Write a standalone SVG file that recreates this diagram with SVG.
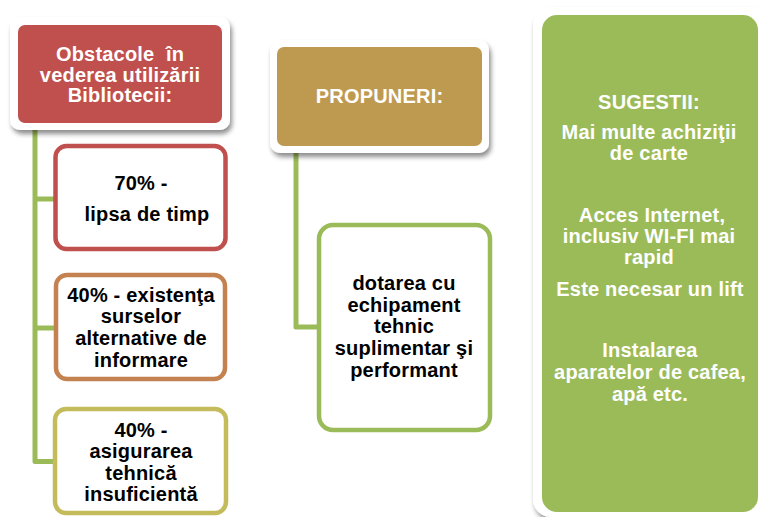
<svg xmlns="http://www.w3.org/2000/svg" width="758" height="517" viewBox="0 0 758 517">
  <defs>
    <filter id="sh" x="-10%" y="-10%" width="125%" height="125%">
      <feGaussianBlur in="SourceAlpha" stdDeviation="2.5"/>
      <feOffset dx="2" dy="4" result="b"/>
      <feComponentTransfer><feFuncA type="linear" slope="0.45"/></feComponentTransfer>
      <feMerge><feMergeNode/><feMergeNode in="SourceGraphic"/></feMerge>
    </filter>
  </defs>
  <style>
    text { font-family: "Liberation Sans", Arial, sans-serif; font-weight: bold; font-size: 20px; text-anchor: middle; letter-spacing: 0.2px; }
    .w { fill: #ffffff; }
    .k { fill: #000000; }
    .frame { fill: #ffffff; filter: url(#sh); }
    .box { fill: #ffffff; stroke-width: 4.5; }
    .conn { fill: none; stroke: #9BBB59; stroke-width: 5; stroke-linejoin: round; }
  </style>
  <rect width="758" height="517" fill="#ffffff"/>

  <g id="connectors">
    <path class="conn" d="M35 127 V461.5 H56"/>
    <path class="conn" d="M35 199 H56"/>
    <path class="conn" d="M35 328 H56"/>
    <path class="conn" d="M296 150 V327 H320"/>
  </g>

  <g id="obstacole">
    <rect class="frame" x="10" y="17" width="220" height="113" rx="10"/>
    <rect x="18" y="25" width="204" height="98" rx="7" fill="#C0504D"/>
    <text class="w" x="120" y="60.5" xml:space="preserve">Obstacole  în</text>
    <text class="w" x="120" y="81.5">vederea utilizării</text>
    <text class="w" x="120" y="102">Bibliotecii:</text>
  </g>

  <g id="lipsa">
    <rect class="box" x="55.5" y="146" width="170" height="103" rx="11" stroke="#C0504D"/>
    <text class="k" x="141" y="190">70% -</text>
    <text class="k" x="147" y="220.5">lipsa de timp</text>
  </g>

  <g id="surse">
    <rect class="box" x="56" y="275" width="169" height="104" rx="11" stroke="#C48250"/>
    <text class="k" x="141" y="301.5">40% - existenţa</text>
    <text class="k" x="141" y="323">surselor</text>
    <text class="k" x="141" y="345">alternative de</text>
    <text class="k" x="141" y="366.5">informare</text>
  </g>

  <g id="asigurarea">
    <rect class="box" x="55" y="409" width="171" height="104" rx="11" stroke="#C4BC5B"/>
    <text class="k" x="141" y="437">40% -</text>
    <text class="k" x="141" y="458">asigurarea</text>
    <text class="k" x="141" y="479.5">tehnică</text>
    <text class="k" x="141" y="500.5">insuficientă</text>
  </g>

  <g id="propuneri">
    <rect class="frame" x="270" y="40" width="219" height="113" rx="10"/>
    <rect x="277" y="47" width="205" height="99" rx="7" fill="#BE9A51"/>
    <text class="w" x="379.5" y="102.5">PROPUNERI:</text>
  </g>

  <g id="dotarea">
    <rect class="box" x="319" y="225" width="171" height="205" rx="14" stroke="#9BBB59"/>
    <text class="k" x="404" y="290">dotarea cu</text>
    <text class="k" x="404" y="311.5">echipament</text>
    <text class="k" x="404" y="333">tehnic</text>
    <text class="k" x="404" y="355">suplimentar şi</text>
    <text class="k" x="404" y="376.5">performant</text>
  </g>

  <g id="sugestii">
    <rect class="frame" x="533" y="7" width="245" height="510" rx="18"/>
    <rect x="542" y="15" width="216" height="497" rx="15" fill="#9BBB59"/>
    <text class="w" x="649" y="108.5">SUGESTII:</text>
    <text class="w" x="649" y="138.5">Mai multe achiziţii</text>
    <text class="w" x="649" y="160">de carte</text>
    <text class="w" x="652" y="221.5">Acces Internet,</text>
    <text class="w" x="649" y="242.5">inclusiv WI-FI mai</text>
    <text class="w" x="649" y="264">rapid</text>
    <text class="w" x="650" y="296">Este necesar un lift</text>
    <text class="w" x="650" y="357">Instalarea</text>
    <text class="w" x="650" y="379">aparatelor de cafea,</text>
    <text class="w" x="650" y="401">apă etc.</text>
  </g>
</svg>
